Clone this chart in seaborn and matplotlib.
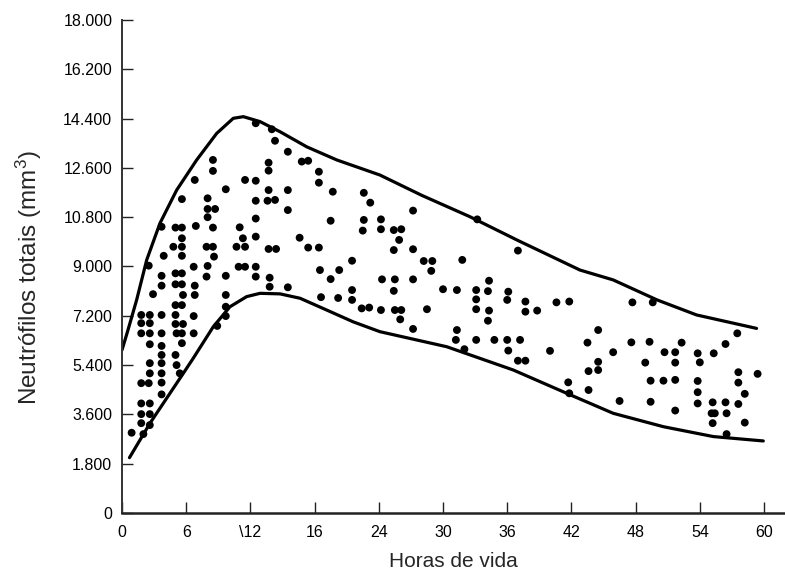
import seaborn as sns
import matplotlib.pyplot as plt
import pandas as pd

# pontos (horas de vida, neutrofilos totais por mm3), lidos coluna a coluna
horas = [
    0.9,
    1.8, 1.8, 1.8, 1.8, 1.8, 1.8, 1.8, 2.0,
    2.5, 2.6, 2.6, 2.6, 2.6, 2.6, 2.6, 2.5, 2.6, 2.6, 2.6, 2.9,
    3.7, 3.9, 3.7, 3.7, 3.7, 3.7, 3.7, 3.7, 3.7, 3.7, 3.7, 3.7,
    5.0, 4.8, 5.0, 5.0, 5.0, 5.0, 5.0, 5.1, 5.0, 5.1,
    5.6, 5.6, 5.6, 5.6, 5.6, 5.6, 5.6, 5.7, 5.6, 5.7, 5.6, 5.6, 5.4,
    6.8, 6.9, 6.7, 6.8, 6.8, 6.7, 6.7,
    8.0, 8.0, 8.0, 7.9, 8.0, 7.9,
    8.5, 8.5, 8.7, 8.5, 8.5, 8.6, 8.9,
    9.7, 9.7, 9.7, 9.7, 9.7,
    11.5, 11.0, 11.3, 10.7, 11.5, 10.9, 11.5,
    12.5, 12.5, 12.5, 12.5, 12.5, 12.5, 12.5,
    14.0, 14.3, 13.7, 13.7, 13.7, 13.6, 14.3, 13.7, 14.4, 13.8, 13.8,
    15.5, 15.5, 15.5, 15.5,
    16.8, 17.4, 16.6, 17.4,
    18.4, 18.4, 18.4, 18.5, 18.6,
    19.7, 19.5, 20.3, 19.5, 20.2,
    21.5, 21.5, 21.5,
    22.6, 23.2, 22.6, 22.5, 22.4, 23.1,
    24.2, 24.2, 24.3, 24.2,
    25.4, 26.1, 25.9, 25.4, 25.5, 25.4, 25.5, 26.1, 26.0,
    27.2, 27.2, 27.2, 27.2,
    28.2, 29.0, 28.9, 28.5, 30.0,
    31.8, 31.3, 31.3, 31.2, 32.0,
    33.2, 33.1, 33.1, 33.1, 33.1,
    34.3, 34.2, 34.3, 34.2, 34.8,
    36.1, 36.0, 36.0, 36.1,
    37.0, 37.7, 37.7, 37.2, 37.0, 37.7,
    38.8, 40.0,
    40.6, 41.8, 41.7, 41.8,
    43.5, 43.6, 43.6, 44.5, 44.5, 44.5,
    45.9, 46.5,
    47.7, 49.6, 47.6, 49.3, 48.9, 49.4, 49.4,
    50.7, 51.7, 52.3, 51.7, 50.6, 51.7, 51.7,
    53.8, 54.0, 53.8, 53.8, 53.8,
    55.3, 55.2, 55.1, 55.4, 55.2,
    56.4, 56.4, 56.5, 56.5,
    57.5, 57.6, 57.6, 58.2, 57.6, 58.2,
    59.4,
]
neutrofilos = [
    2930,
    7230, 6930, 6560, 4740, 4000, 3610, 3280, 2880,
    9030, 7230, 6930, 6560, 6160, 5470, 5100, 4740, 4000, 3610, 3210, 7990,
    10450, 9390, 8660, 8300, 7230, 6560, 6100, 5770, 5470, 5100, 4760, 4330,
    10420, 9720, 8750, 8350, 7590, 7230, 6900, 6560, 5770, 5400,
    11460, 10420, 10030, 9720, 9390, 8750, 8350, 7960, 7590, 6900, 6560, 6200, 5100,
    12160, 10480, 8990, 8300, 7960, 7190, 6560,
    11490, 11100, 10800, 9720, 9020, 8630,
    12890, 12490, 11100, 10420, 9720, 9360, 6830,
    11820, 8660, 7960, 7530, 7190,
    12160, 10430, 10030, 9720, 9720, 8990, 8990,
    14230, 12130, 11400, 10750, 10090, 8990, 8630,
    14010, 13590, 12790, 12500, 11790, 11400, 11430, 9640, 9640, 8590, 8260,
    13190, 11790, 11060, 8240,
    12830, 12860, 10050, 9690,
    12460, 12060, 9690, 8870, 7880,
    11730, 10670, 8870, 8540, 7850,
    9210, 8140, 7780,
    11690, 11330, 10700, 10310, 7470, 7500,
    10720, 10360, 8530, 7410,
    10330, 10360, 9970, 9600, 8530, 8110, 7410, 7410, 7070,
    11040, 9630, 8530, 6720,
    9200, 9200, 8840, 7440, 8170,
    9240, 8140, 6680, 6320, 5980,
    10720, 8140, 7800, 7440, 6320,
    8480, 8100, 7390, 7020, 6320,
    8080, 7780, 6320, 5930,
    9580, 7720, 7350, 6320, 5560, 5560,
    7390, 5920,
    7690, 7720, 4770, 4370,
    6220, 5180, 4490, 6680, 5520, 5220,
    5870, 4090,
    7690, 7690, 6230, 6250, 5490, 4830, 4060,
    5870, 5870, 6220, 5490, 4830, 4860, 3740,
    5830, 5500, 4820, 4410, 4000,
    5830, 4040, 3640, 3640, 3280,
    6170, 4040, 3640, 2880,
    6560, 5140, 4760, 4350, 3980, 3300,
    5080,
]

# limite superior e inferior
sup_horas = [0, 0.5, 1.37, 2.31, 3.55, 5.11, 6.98, 8.85, 10.4, 11.34, 12.9,
             14.77, 17.26, 20.07, 24.1, 28.0, 32.5, 37.0, 42.8, 45.9, 50.0, 53.7, 59.3]
sup_valor = [5950, 6600, 7780, 9240, 10580, 11790, 12890, 13860, 14410, 14470, 14290,
             13920, 13370, 12890, 12340, 11600, 10820, 9950, 8870, 8510, 7780, 7230, 6740]
inf_horas = [0.7, 2.62, 5.73, 6.66, 8.53, 10.09, 11.65, 12.9, 14.77, 16.64, 19.13,
             21.6, 24.1, 30.35, 36.57, 41.56, 45.9, 50.6, 55.26, 59.93]
inf_valor = [2020, 3280, 5100, 5650, 6800, 7530, 7900, 8020, 8000, 7840, 7410,
             6980, 6620, 6070, 5220, 4370, 3640, 3150, 2790, 2630]

x_ticks = [0, 6, 12, 18, 24, 30, 36, 42, 48, 54, 60]
x_labels = ["0", "6", "\\12", "16", "24", "30", "36", "42", "48", "54", "60"]
y_ticks = [0, 1800, 3600, 5400, 7200, 9000, 10800, 12600, 14400, 16200, 18000]
y_labels = ["0", "1.800", "3.600", "5.400", "7.200", "9.000",
            "10.800", "12.600", "14.400", "16.200", "18.000"]

sns.set_style("ticks")
plt.rcParams["font.family"] = ["Liberation Sans", "DejaVu Sans"]
plt.rcParams["mathtext.default"] = "regular"

fig = plt.figure(figsize=(7.85, 5.76), dpi=100)
ax = fig.add_axes([0.1554, 0.1094, 0.8446, 0.8559])

pontos = pd.DataFrame({"horas": horas, "neutrofilos": neutrofilos})
sns.scatterplot(data=pontos, x="horas", y="neutrofilos", color="black",
                s=32, edgecolor="none", ax=ax, zorder=3)

sns.lineplot(x=sup_horas, y=sup_valor, sort=False, estimator=None,
             color="black", linewidth=2.3, ax=ax)
sns.lineplot(x=inf_horas, y=inf_valor, sort=False, estimator=None,
             color="black", linewidth=2.3, ax=ax)

ax.set_xlim(0, 61.96)
ax.set_ylim(0, 18000)
ax.set_xticks(x_ticks)
ax.set_xticklabels(x_labels)
ax.set_yticks(y_ticks)
ax.set_yticklabels(y_labels)
ax.tick_params(axis="both", direction="in", length=8, width=1, colors="#222222",
               labelsize=11.5, labelcolor="black")
ax.tick_params(axis="x", pad=9)
ax.tick_params(axis="y", pad=7)

for side in ["top", "right"]:
    ax.spines[side].set_visible(False)
ax.spines["left"].set_linewidth(1.4)
ax.spines["bottom"].set_linewidth(1.8)
ax.spines["left"].set_color("#333333")
ax.spines["bottom"].set_color("#222222")

ax.set_xlabel("Horas de vida", fontsize=15, labelpad=8)
ax.set_ylabel("Neutrófilos totais (mm$^3$)", fontsize=17.5)
ax.yaxis.set_label_coords(-0.118, 0.477)

fig.savefig("out.png", dpi=100)
